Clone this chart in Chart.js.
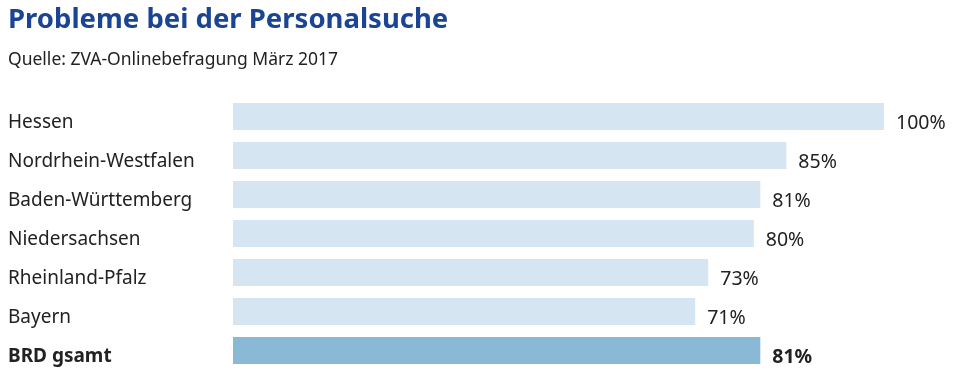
<!DOCTYPE html>
<html>
<head>
<meta charset="utf-8">
<script src="https://cdn.jsdelivr.net/npm/chart.js@4"></script>
<style>
html,body{margin:0;padding:0;background:#fff}
#wrap{width:962px;height:376px}
</style>
</head>
<body>
<div id="wrap"><canvas id="chart" width="962" height="376"></canvas></div>
<script>
const categories=["Hessen","Nordrhein-Westfalen","Baden-Württemberg","Niedersachsen","Rheinland-Pfalz","Bayern","BRD gsamt"]
const values=[100,85,81,80,73,71,81]

const lightBar="#d5e5f1"
const darkBar="#8ab9d5"
const fontFam="'Noto Sans', 'Open Sans', sans-serif"

// value labels right of each bar
const valueLabels={
id:"valueLabels",
afterDatasetsDraw(chart){
const ctx=chart.ctx
const meta=chart.getDatasetMeta(0)
ctx.save()
ctx.textAlign="left"
ctx.textBaseline="middle"
ctx.fillStyle="#222"
meta.data.forEach((bar,i)=>{
const last=i===values.length-1
ctx.font=(last?"bold ":"")+"19.5px "+fontFam
ctx.fillText(values[i]+"%",bar.x+12,bar.y+7)
})
ctx.restore()
}
}

new Chart(document.getElementById("chart"),{
type:"bar",
data:{
labels:categories,
datasets:[{
data:values,
backgroundColor:values.map((v,i)=>i===values.length-1?darkBar:lightBar),
borderWidth:0,
barPercentage:0.69,
categoryPercentage:1
}]
},
options:{
indexAxis:"y",
responsive:false,
animation:false,
layout:{padding:{left:8,right:78,top:0,bottom:6}},
scales:{
x:{display:false,min:0,max:100},
y:{
grid:{display:false},
border:{display:false},
afterFit(axis){axis.width=225;axis.paddingTop=0;axis.paddingBottom=0},
ticks:{
crossAlign:"far",
labelOffset:6,
color:"#222",
font:ctx=>({family:fontFam,size:19,weight:ctx.index===categories.length-1?"bold":"normal"})
}
}
},
plugins:{
legend:{display:false},
tooltip:{enabled:false},
title:{
display:true,
text:"Probleme bei der Personalsuche",
align:"start",
color:"#1b4593",
font:{family:fontFam,size:27.5,weight:"bold"},
padding:{top:4,bottom:0}
},
subtitle:{
display:true,
text:"Quelle: ZVA-Onlinebefragung März 2017",
align:"start",
color:"#222",
font:{family:fontFam,size:17.5},
padding:{top:12.5,bottom:26.5}
}
}
},
plugins:[valueLabels]
})
</script>
</body>
</html>
